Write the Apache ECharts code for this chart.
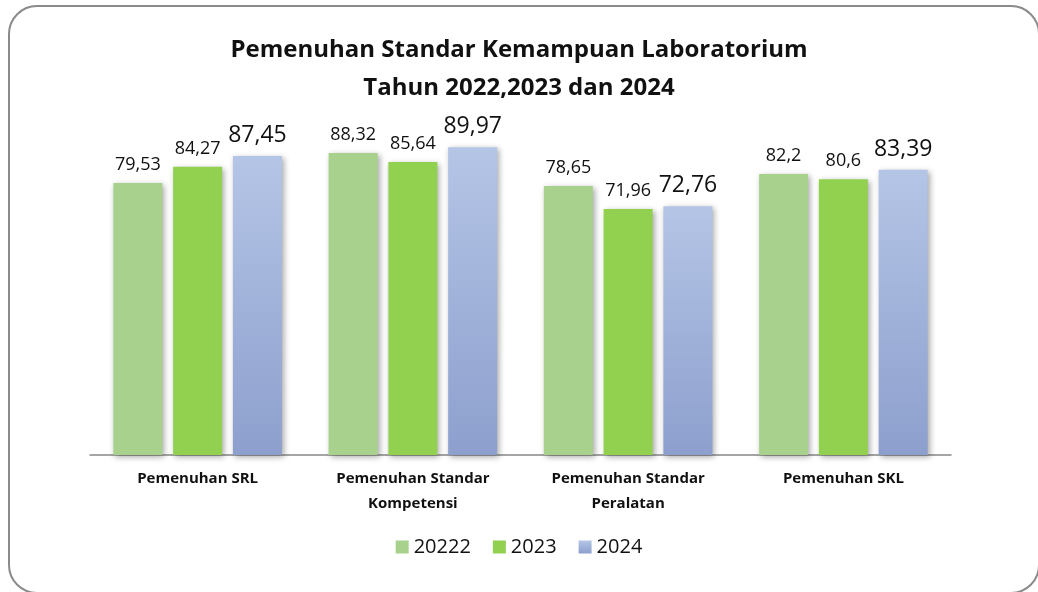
<!DOCTYPE html>
<html>
<head>
<meta charset="utf-8">
<script src="https://cdn.jsdelivr.net/npm/echarts@6/dist/echarts.min.js"></script>
<style>
html,body{margin:0;padding:0;background:#fff;}
#chart{width:1038px;height:592px;}
</style>
</head>
<body>
<div id="chart"></div>
<script>
var categories = ['Pemenuhan SRL', 'Pemenuhan Standar\nKompetensi', 'Pemenuhan Standar\nPeralatan', 'Pemenuhan SKL'];
var seriesNames = ['20222', '2023', '2024'];
var data2022 = [79.53, 88.32, 78.65, 82.2];
var data2023 = [84.27, 85.64, 71.96, 80.6];
var data2024 = [87.45, 89.97, 72.76, 83.39];

var font = '"Open Sans", "Noto Sans", sans-serif';
var chart = echarts.init(document.getElementById('chart'));

function fmt(p) {
  return String(p.value).replace('.', ',');
}
var shadow = {
  shadowBlur: 6,
  shadowColor: 'rgba(0,0,0,0.35)',
  shadowOffsetX: 2,
  shadowOffsetY: 2
};

function makeSeries(name, values, color, labelSize, dist) {
  return {
    name: name,
    type: 'bar',
    data: values,
    barWidth: 49,
    barGap: '22%',
    itemStyle: Object.assign({ color: color }, shadow),
    label: {
      show: true,
      position: 'top',
      distance: dist,
      formatter: fmt,
      fontFamily: font,
      fontSize: labelSize,
      color: '#111'
    }
  };
}

var option = {
  animation: false,
  title: {
    text: 'Pemenuhan Standar Kemampuan Laboratorium\nTahun 2022,2023 dan 2024',
    left: 'center',
    top: 26,
    textStyle: {
      fontFamily: font,
      fontSize: 24,
      fontWeight: 'bold',
      color: '#111',
      lineHeight: 38
    }
  },
  legend: {
    bottom: 30,
    left: 'center',
    itemWidth: 13,
    itemHeight: 13,
    itemGap: 22,
    icon: 'rect',
    textStyle: { fontFamily: font, fontSize: 20, color: '#111' },
    data: seriesNames
  },
  grid: { left: 90, right: 87, top: 113, bottom: 137, containLabel: false },
  xAxis: {
    type: 'category',
    data: categories,
    axisTick: { show: false },
    axisLine: { lineStyle: { color: '#888', width: 1.5 } },
    axisLabel: {
      fontFamily: font,
      fontSize: 15,
      fontWeight: 'bold',
      color: '#111',
      lineHeight: 25,
      margin: 11,
      interval: 0
    }
  },
  yAxis: {
    type: 'value',
    min: 0,
    max: 100,
    show: false
  },
  graphic: [{
    type: 'rect',
    shape: { x: 9, y: 6, width: 1030, height: 587, r: 28 },
    style: { fill: 'none', stroke: '#8a8a8a', lineWidth: 2 },
    silent: true
  }],
  series: [
    makeSeries(seriesNames[0], data2022, '#a9d18e', 18, 9),
    makeSeries(seriesNames[1], data2023, '#92d050', 18, 9),
    makeSeries(seriesNames[2], data2024, new echarts.graphic.LinearGradient(0, 0, 0, 1, [
      { offset: 0, color: '#b4c5e6' },
      { offset: 1, color: '#8d9fcd' }
    ]), 23, 9)
  ]
};
chart.setOption(option);
</script>
</body>
</html>
